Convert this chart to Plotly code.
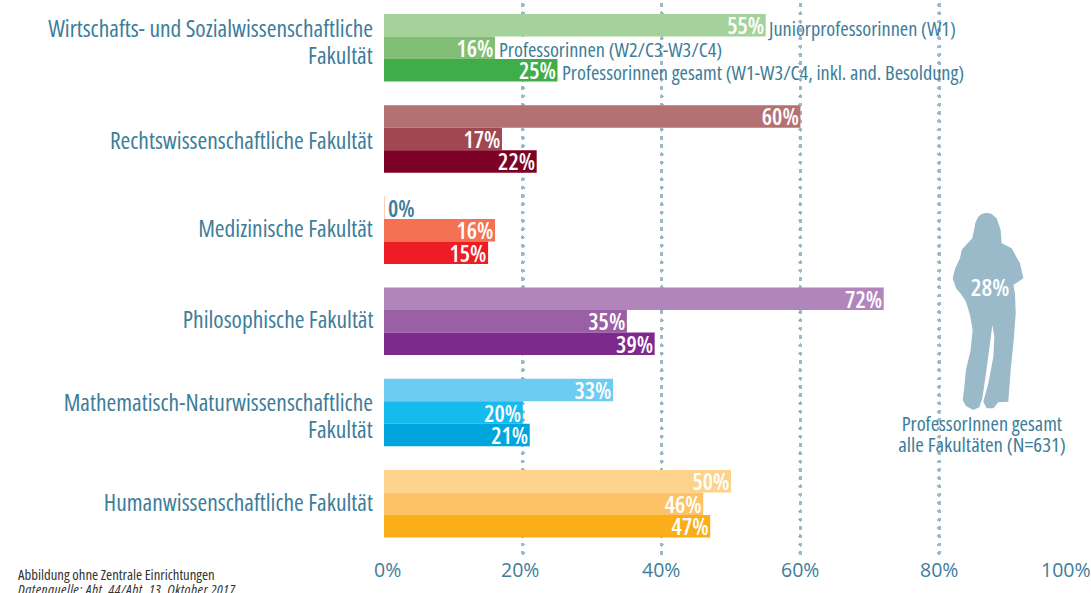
import plotly.graph_objects as go

W, H = 1091, 593
X0, X1 = 384, 1078
Y0, Y1 = 5.0, 555.0
PITCH = 91.2
FIRST = 47.75

faculties = [
    "Wirtschafts- und Sozialwissenschaftliche<br>Fakultät",
    "Rechtswissenschaftliche Fakultät",
    "Medizinische Fakultät",
    "Philosophische Fakultät",
    "Mathematisch-Naturwissenschaftliche<br>Fakultät",
    "Humanwissenschaftliche Fakultät",
]
faculty_label_shift = [6, -1, 2, 2, -2.5, 2]
series_names = [
    "Juniorprofessorinnen (W1)",
    "Professorinnen (W2/C3-W3/C4)",
    "Professorinnen gesamt (W1-W3/C4, inkl. and. Besoldung)",
]
junior = [55, 60, 0, 72, 33, 50]
w2w3 = [16, 17, 16, 35, 20, 46]
gesamt = [25, 22, 15, 39, 21, 47]
colors_junior = ["#a5d19b", "#b57171", "#f9b99f", "#b085bb", "#6ecbf2", "#fdd28c"]
colors_w2w3 = ["#80bf75", "#a04752", "#f47253", "#9a5fa4", "#16bbed", "#fdc265"]
colors_gesamt = ["#3fae49", "#7d0025", "#ee1c25", "#7e2a8c", "#00a5db", "#fbae17"]
x_ticks = [0, 20, 40, 60, 80, 100]
x_label_shift = [3, -3, -1, 0, 0, -12]
BLUE = "#3d7d99"
GRID = "#9ab9c9"
FONT = "Open Sans, sans-serif"
FS = 23.5
FS_X = 19.5


def px(x):
    return x / W


def py(y):
    return 1 - y / H


def bar(name, vals, cols):
    labels = [f"{v}%" if v else "" for v in vals]
    return go.Bar(
        name=name, y=faculties, x=vals, orientation="h",
        marker=dict(color=cols, line=dict(color=cols, width=[1 if v == 0 else 0 for v in vals])),
        text=labels, textposition="inside", insidetextanchor="end", textangle=0,
        constraintext="none", cliponaxis=False,
        textfont=dict(family=FONT, size=23, color="white", weight=600),
        hoverinfo="skip",
    )


fig = go.Figure([
    bar(series_names[0], junior, colors_junior),
    bar(series_names[1], w2w3, colors_w2w3),
    bar(series_names[2], gesamt, colors_gesamt),
])

silhouette = [
    (320, 68), (305, 72), (295, 80), (286, 98), (283, 115), (277, 145), (258, 165), (245, 180), (240, 205),
    (226, 235), (218, 265), (228, 295), (245, 315), (258, 335), (270, 375), (278, 420),
    (272, 480), (258, 540), (252, 600), (248, 630), (258, 648), (280, 660), (298, 652),
    (307, 625), (318, 550), (330, 460), (337, 405), (343, 440), (340, 500), (325, 580),
    (310, 635), (320, 655), (340, 655), (355, 637), (385, 635), (392, 540), (402, 440),
    (407, 370), (405, 310), (400, 285), (430, 265), (420, 220), (395, 175), (365, 160),
    (362, 120), (350, 85), (335, 72),
]
path = "M " + " L ".join(f"{px(880 + a / 3):.4f},{py(190 + b / 3):.4f}" for a, b in silhouette) + " Z"
fig.add_shape(type="path", path=path, xref="paper", yref="paper", fillcolor=GRID, line=dict(width=0), layer="above")
fig.add_shape(type="rect", x0=px(496), x1=px(530), y0=py(37), y1=py(59), xref="paper", yref="paper",
              fillcolor="white", line=dict(width=0), layer="above")


def note(text, x, y, size=20.3, color=BLUE, anchor="left", **kw):
    fig.add_annotation(text=text, xref="paper", yref="paper", x=px(x), y=py(y), xanchor=anchor,
                       yanchor="middle", showarrow=False, align=kw.pop("align", anchor),
                       font=dict(family=FONT, size=size, color=color, **kw.pop("f", {})),
                       borderpad=0, **kw)


note(series_names[0], 766, 28)
note(series_names[1], 498, 49)
note(series_names[2], 561, 72)
note("0%", 387, 208, size=23, f=dict(weight=600))
note("28%", 990, 287, size=24, color="white", anchor="center", f=dict(weight=600))
note("ProfessorInnen gesamt", 982, 423, size=20.3, anchor="center")
note("alle Fakultäten (N=631)", 982, 444, size=20.8, anchor="center")
note("Abbildung ohne Zentrale Einrichtungen", 17, 574, size=14.7, color="#333333")
note("<i>Datenquelle: Abt. 44/Abt. 13, Oktober 2017</i>", 17, 589, size=14.7, color="#333333")

for fac, shift in zip(faculties, faculty_label_shift):
    lines = fac.split("<br>")
    for i, line in enumerate(lines):
        fig.add_annotation(text=line, x=0, y=fac, xref="x", yref="y", xanchor="right", yanchor="middle", align="right",
                           xshift=-9, yshift=shift - (i - (len(lines) - 1) / 2) * 27, showarrow=False,
                           font=dict(family=FONT, size=FS, color=BLUE))
for tick, shift in zip(x_ticks, x_label_shift):
    fig.add_annotation(text=f"{tick}%", x=tick, xref="x", y=py(569), yref="paper", xanchor="center", yanchor="middle",
                       xshift=shift, showarrow=False, font=dict(family=FONT, size=FS_X, color=BLUE))

fig.update_layout(
    width=W, height=H, margin=dict(l=0, r=0, t=0, b=0), showlegend=False,
    plot_bgcolor="white", paper_bgcolor="white", barmode="group", bargap=0.26, bargroupgap=0,
    xaxis=dict(
        domain=[px(X0), px(X1)], range=[0, 100], side="bottom", anchor="y",
        tickvals=x_ticks, showticklabels=False, ticks="", showline=False, zeroline=False,
        showgrid=True, gridcolor=GRID, gridwidth=4, griddash="0.1px,8.2px", automargin=False,
    ),
    yaxis=dict(
        domain=[py(Y1), py(Y0)],
        range=[(Y1 - FIRST) / PITCH, (Y0 - FIRST) / PITCH],
        showticklabels=False, ticks="", showline=False, zeroline=False, showgrid=False, automargin=False,
    ),
)
post = """
document.body.style.margin='0';
document.querySelectorAll('.gridlayer path').forEach(p=>{p.style.strokeLinecap='round';});
document.querySelectorAll('svg text').forEach(t=>{
  if(!t.style.fontSize.startsWith('19.5')){t.style.fontStretch='75%';}
  if(t.textContent.startsWith('Datenquelle')){t.style.letterSpacing='0.45px';}
});
document.querySelectorAll('.barlayer text').forEach(t=>{
  t.setAttribute('x', parseFloat(t.getAttribute('x')||0)+6);
  t.querySelectorAll('tspan[x]').forEach(s=>s.setAttribute('x', parseFloat(s.getAttribute('x'))+6));
});
"""
fig.write_html("out.html", post_script=post, config=dict(displayModeBar=False))
